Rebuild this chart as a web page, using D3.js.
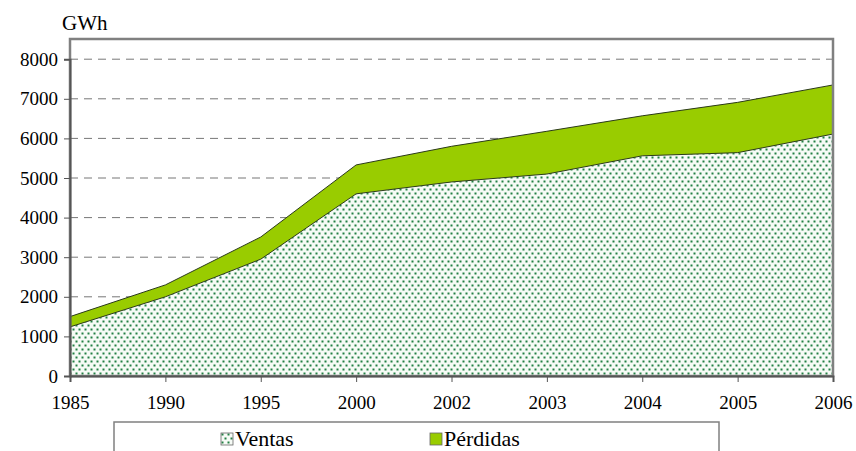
<!DOCTYPE html>
<html>
<head>
<meta charset="utf-8">
<script src="https://cdn.jsdelivr.net/npm/d3@7"></script>
<style>
  body { margin: 0; background: #fff; }
</style>
</head>
<body>
<script>
// chart data
let years = ["1985", "1990", "1995", "2000", "2002", "2003", "2004", "2005", "2006"]
let ventas = [1240, 2000, 2950, 4600, 4900, 5100, 5560, 5640, 6110]
let perdidas = [260, 300, 560, 730, 900, 1080, 1010, 1270, 1240]
let yTicks = [0, 1000, 2000, 3000, 4000, 5000, 6000, 7000, 8000]
let seriesNames = ["Ventas", "Pérdidas"]

let w = 856, h = 451
let mLeft = 70, mRight = 833, mTop = 39, mBottom = 376
let serif = "'Times New Roman', Times, 'Liberation Serif', 'Nimbus Roman', 'Noto Serif', 'DejaVu Serif', FreeSerif, serif"

let svg = d3.select("body").append("svg")
    .attr("width", w)
    .attr("height", h)
    .attr("font-family", serif)

// dotted pattern for Ventas
let defs = svg.append("defs")
let pat = defs.append("pattern")
    .attr("id", "dots")
    .attr("patternUnits", "userSpaceOnUse")
    .attr("width", 6)
    .attr("height", 8)
pat.append("rect").attr("width", 6).attr("height", 8).attr("fill", "#f6fbf6")
pat.append("rect").attr("x", 0.5).attr("y", 0.5).attr("width", 2).attr("height", 2).attr("fill", "#228044")
pat.append("rect").attr("x", 3.5).attr("y", 4.5).attr("width", 2).attr("height", 2).attr("fill", "#228044")

let x = d3.scalePoint().domain(years).range([mLeft, mRight])
let y = d3.scaleLinear().domain([0, 8000]).range([mBottom, mBottom - 8 * 39.6])

let rows = years.map((yr, i) => ({year: yr, Ventas: ventas[i], "Pérdidas": perdidas[i]}))
let stacked = d3.stack().keys(seriesNames)(rows)

// gridlines
svg.append("g")
    .selectAll("line")
    .data(yTicks.filter(d => d > 0))
    .enter()
    .append("line")
    .attr("x1", mLeft).attr("x2", mRight)
    .attr("y1", d => y(d)).attr("y2", d => y(d))
    .attr("stroke", "#777")
    .attr("stroke-width", 1)
    .attr("stroke-dasharray", "8,6")

let area = d3.area()
    .x(d => x(d.data.year))
    .y0(d => y(d[0]))
    .y1(d => y(d[1]))

let fills = {"Ventas": "url(#dots)", "Pérdidas": "#99cc00"}

svg.append("g")
    .selectAll("path")
    .data(stacked)
    .enter()
    .append("path")
    .attr("d", area)
    .attr("fill", d => fills[d.key])

// top outlines of each series
let line = d3.line()
    .x(d => x(d.data.year))
    .y(d => y(d[1]))
svg.append("g")
    .selectAll("path")
    .data(stacked)
    .enter()
    .append("path")
    .attr("d", line)
    .attr("fill", "none")
    .attr("stroke", "#2b3a1a")
    .attr("stroke-width", 1)

// plot box
svg.append("rect")
    .attr("x", mLeft).attr("y", mTop)
    .attr("width", mRight - mLeft).attr("height", mBottom - mTop)
    .attr("fill", "none")
    .attr("stroke", "#808080")
    .attr("stroke-width", 2.5)

// axes
let yAxis = d3.axisLeft(y).tickValues(yTicks).tickFormat(d3.format("d")).tickSize(6).tickPadding(6)
let gy = svg.append("g")
    .attr("transform", `translate(${mLeft},0)`)
    .call(yAxis)
gy.attr("font-family", serif)
gy.select(".domain").attr("stroke", "#555").attr("stroke-width", 2)
gy.selectAll(".tick line").attr("stroke", "#555")
gy.selectAll(".tick text").style("font-size", "19px").style("font-family", serif)

let xAxis = d3.axisBottom(x).tickSize(6).tickPadding(14)
let gx = svg.append("g")
    .attr("transform", `translate(0,${mBottom})`)
    .call(xAxis)
gx.attr("font-family", serif)
gx.select(".domain").attr("stroke", "#555").attr("stroke-width", 2)
gx.selectAll(".tick line").attr("stroke", "#555")
gx.selectAll(".tick text").style("font-size", "19px").style("font-family", serif)

svg.append("text")
    .attr("x", 62).attr("y", 30)
    .style("font-size", "21px")
    .style("font-family", serif)
    .text("GWh")

// legend
let legend = svg.append("g")
legend.append("rect")
    .attr("x", 114).attr("y", 422)
    .attr("width", 605).attr("height", 40)
    .attr("fill", "#fff")
    .attr("stroke", "#808080")
    .attr("stroke-width", 1.5)

let legX = [221, 430]
let items = legend.selectAll("g.item")
    .data(seriesNames)
    .enter()
    .append("g")
    .attr("class", "item")
    .attr("transform", (d, i) => `translate(${legX[i]},433)`)
items.append("rect")
    .attr("width", 12).attr("height", 12)
    .attr("fill", d => fills[d])
    .attr("stroke", "#666")
    .attr("stroke-width", 0.8)
items.append("text")
    .attr("x", 14).attr("y", 13)
    .style("font-size", "22px")
    .style("font-family", serif)
    .text(d => d)
</script>
</body>
</html>
